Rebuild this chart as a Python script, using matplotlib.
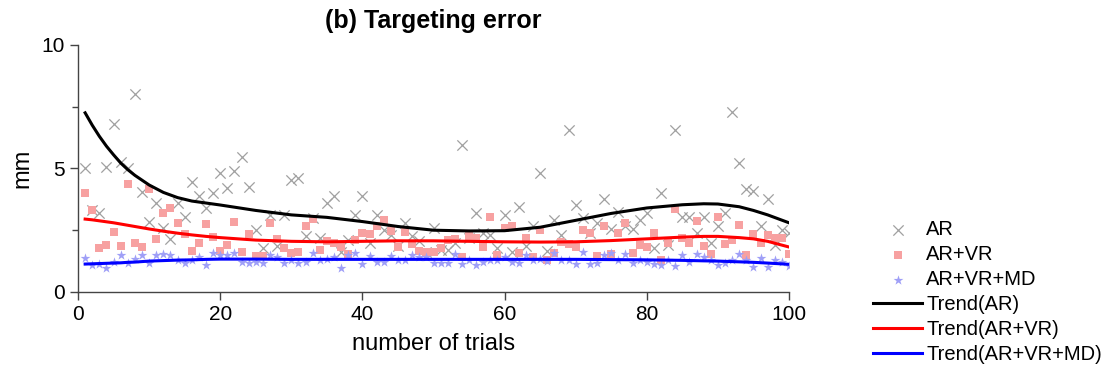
import numpy as np
import matplotlib.pyplot as plt

plt.rcParams['font.family'] = ['Liberation Sans', 'DejaVu Sans']

trials = np.arange(1, 101)

# AR (gray crosses)
ar = [5.0, 3.3, 3.2, 5.05, 6.8, 5.25, 5.0, 8.0, 4.05, 2.85,
      3.6, 2.6, 2.15, 3.6, 3.05, 4.45, 3.9, 3.4, 4.0, 4.8,
      4.2, 4.9, 5.45, 4.25, 2.5, 1.8, 3.1, 1.85, 3.1, 4.55,
      4.6, 2.25, 3.0, 2.2, 3.6, 3.9, 1.6, 2.1, 3.1, 3.9,
      2.0, 3.1, 2.5, 2.3, 1.85, 2.8, 2.25, 2.05, 1.6, 2.6,
      1.7, 1.7, 2.0, 5.95, 2.2, 3.2, 2.4, 2.3, 1.8, 3.1,
      1.6, 3.45, 1.85, 2.65, 4.8, 1.65, 2.9, 2.3, 6.55, 3.5,
      3.0, 2.4, 2.8, 3.75, 2.55, 3.25, 2.65, 2.55, 2.9, 3.2,
      1.8, 4.0, 1.9, 6.55, 3.05, 3.05, 2.4, 3.05, 2.0, 2.65,
      3.2, 7.3, 5.2, 4.15, 4.1, 2.65, 3.75, 1.9, 2.5, 2.4]

# AR+VR (pink squares)
ar_vr = [4.0, 3.3, 1.8, 1.9, 2.43, 1.85, 4.37, 2.0, 1.83, 4.17,
         2.15, 3.2, 3.4, 2.8, 2.35, 1.66, 2.0, 2.75, 2.22, 1.66,
         1.9, 2.83, 1.62, 2.35, 1.45, 1.45, 2.8, 2.15, 1.78, 1.58,
         1.62, 2.65, 2.95, 1.7, 2.05, 2.0, 1.83, 1.53, 2.1, 2.4,
         2.35, 2.65, 2.9, 2.47, 1.83, 2.43, 1.95, 1.66, 1.62, 1.62,
         1.78, 2.1, 2.15, 1.42, 2.27, 2.18, 1.83, 3.04, 1.5, 2.6,
         2.67, 1.58, 2.18, 1.42, 2.5, 1.3, 1.58, 2.02, 1.94, 1.83,
         2.5, 2.38, 1.45, 2.67, 1.53, 2.38, 2.8, 1.58, 1.9, 1.83,
         2.38, 1.3, 1.98, 3.36, 2.2, 1.98, 2.87, 1.86, 1.53, 3.04,
         1.94, 2.1, 2.7, 1.5, 2.35, 2.0, 2.3, 2.18, 2.18, 1.53]

# AR+VR+MD (blue stars)
ar_vr_md = [1.37, 1.1, 1.13, 0.97, 1.2, 1.5, 1.17, 1.34, 1.5, 1.17,
            1.5, 1.54, 1.5, 1.3, 1.17, 1.3, 1.4, 1.1, 1.58, 1.5,
            1.5, 1.58, 1.2, 1.17, 1.2, 1.17, 1.5, 1.42, 1.17, 1.3,
            1.17, 1.2, 1.58, 1.3, 1.35, 1.42, 0.97, 1.5, 1.58, 1.13,
            1.45, 1.2, 1.2, 1.45, 1.3, 1.3, 1.5, 1.42, 1.42, 1.17,
            1.17, 1.17, 1.54, 1.13, 1.3, 1.1, 1.2, 1.3, 1.3, 1.42,
            1.2, 1.17, 1.5, 1.3, 1.34, 1.25, 1.58, 1.3, 1.3, 1.13,
            1.62, 1.13, 1.17, 1.5, 1.58, 1.3, 1.54, 1.17, 1.3, 1.2,
            1.13, 1.1, 1.3, 1.05, 1.5, 1.2, 1.54, 1.42, 1.3, 1.1,
            1.17, 1.3, 1.54, 1.3, 1.02, 1.37, 1.02, 1.3, 1.2, 1.05]

# trend curves
trend_x = [1, 2, 3, 4, 5, 6, 7, 8, 10, 12, 14, 16, 18, 20, 25, 30, 35, 40, 45, 50,
           55, 60, 65, 70, 75, 80, 85, 88, 90, 93, 95, 97, 100]
trend_ar = [7.25, 6.75, 6.3, 5.9, 5.55, 5.22, 4.95, 4.72, 4.33, 4.03, 3.82, 3.68,
            3.6, 3.52, 3.3, 3.12, 3.02, 2.85, 2.65, 2.5, 2.47, 2.48, 2.62, 2.9,
            3.18, 3.4, 3.53, 3.57, 3.56, 3.45, 3.3, 3.12, 2.8]
trend_ar_vr = [2.95, 2.92, 2.88, 2.84, 2.8, 2.75, 2.7, 2.65, 2.55, 2.46, 2.38, 2.31,
               2.25, 2.2, 2.1, 2.05, 2.03, 2.05, 2.07, 2.07, 2.05, 2.03, 2.02, 2.03,
               2.08, 2.15, 2.22, 2.25, 2.25, 2.2, 2.15, 2.05, 1.82]
trend_ar_vr_md = [1.13, 1.14, 1.15, 1.16, 1.17, 1.18, 1.2, 1.21, 1.25, 1.27, 1.29, 1.3,
                  1.32, 1.33, 1.33, 1.32, 1.32, 1.32, 1.32, 1.32, 1.32, 1.32, 1.32, 1.32,
                  1.31, 1.3, 1.28, 1.26, 1.25, 1.22, 1.2, 1.17, 1.12]

fig = plt.figure(figsize=(11.1, 3.71), dpi=100)
ax = fig.add_axes([0.0703, 0.213, 0.6405, 0.666])

ax.scatter(trials, ar, marker='x', s=55, color='#a0a0a0', linewidths=0.9, label='AR', zorder=2)
ax.scatter(trials, ar_vr, marker='s', s=40, color='#f7a1a1', linewidths=0, label='AR+VR', zorder=2)
ax.scatter(trials, ar_vr_md, marker='*', s=55, color='#9f9ff7', linewidths=0, label='AR+VR+MD', zorder=2)

ax.plot(trend_x, trend_ar, color='black', lw=2.2, label='Trend(AR)', zorder=3)
ax.plot(trend_x, trend_ar_vr, color='#ff0000', lw=2.2, label='Trend(AR+VR)', zorder=3)
ax.plot(trend_x, trend_ar_vr_md, color='#0000ff', lw=2.2, label='Trend(AR+VR+MD)', zorder=3)

ax.set_xlim(0, 100)
ax.set_ylim(0, 10)
ax.set_xticks([0, 20, 40, 60, 80, 100])
ax.set_yticks([0, 5, 10])
ax.set_yticks([2.5, 7.5], minor=True)

for side in ['top', 'right']:
    ax.spines[side].set_visible(False)
for side in ['left', 'bottom']:
    ax.spines[side].set_color('#444444')
    ax.spines[side].set_linewidth(1.0)

ax.tick_params(which='major', direction='out', length=6, width=1, colors='#444444',
               labelsize=15, labelcolor='black')
ax.tick_params(which='minor', direction='out', length=4, width=1, colors='#444444')

ax.set_xlabel('number of trials', fontsize=17, labelpad=6)
ax.set_ylabel('mm', fontsize=17, labelpad=6)
ax.set_title('(b) Targeting error', fontsize=18, fontweight='bold', pad=12)

ax.legend(loc='center left', bbox_to_anchor=(0.7865, 0.213), bbox_transform=fig.transFigure,
          frameon=False, fontsize=14.5, borderpad=0, borderaxespad=0, handlelength=2.45,
          handletextpad=0.2, labelspacing=0.3, scatterpoints=1)

fig.savefig('out.png', dpi=100)
